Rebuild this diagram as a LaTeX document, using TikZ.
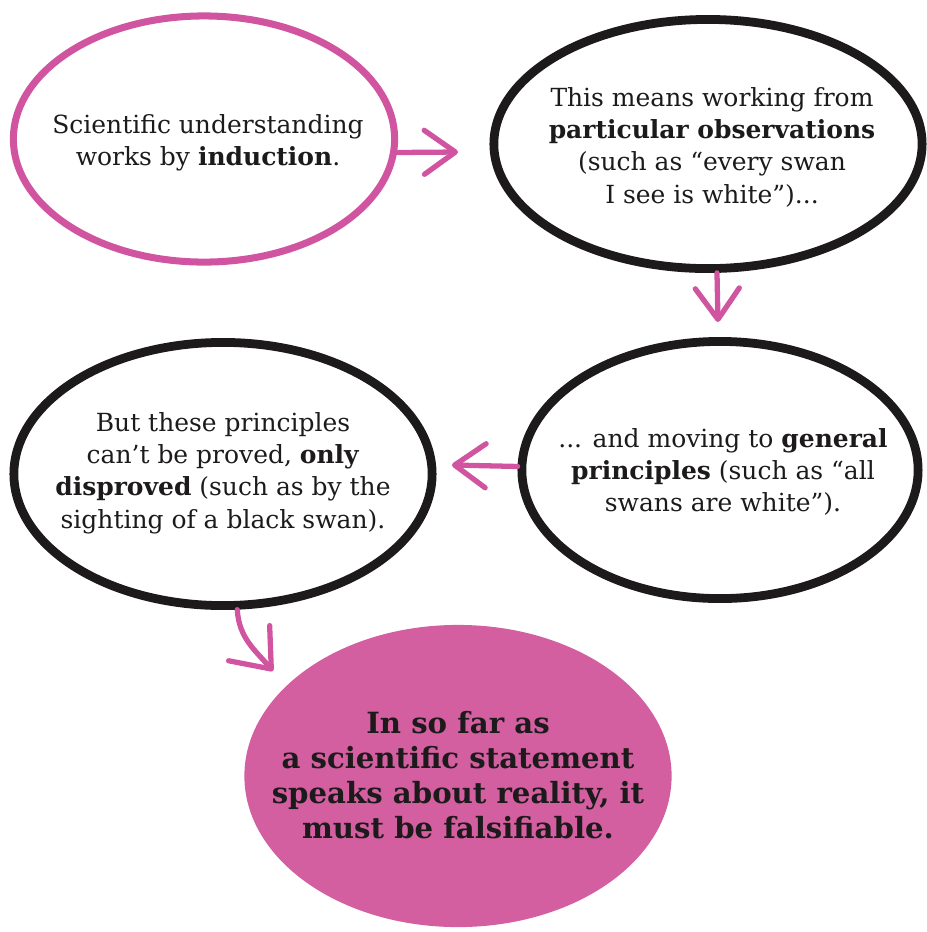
\documentclass[tikz,border=0pt]{standalone}
\usepackage{fontspec}
\setmainfont{DejaVu Serif}
\usetikzlibrary{shapes.geometric,arrows.meta}
\definecolor{swanpink}{RGB}{208,84,160}
\definecolor{swanfill}{RGB}{211,94,160}
\definecolor{inkblack}{RGB}{28,26,27}
\tikzset{
  bubble/.style={ellipse, draw=inkblack, line width=2.5pt, inner sep=0pt},
  says/.style={align=center, text=inkblack, font=\fontsize{7.1}{9.2}\selectfont},
  pinkarrow/.style={swanpink, line width=1.5pt, line cap=round,
    -{Straight Barb[length=3.1mm, width=4.4mm, round]}}
}
\begin{document}
\begin{tikzpicture}[x=0.01cm, y=-0.01cm]
    \useasboundingbox (0,0) rectangle (927,932);

    % Induction
    \node[bubble, draw=swanpink, line width=2pt, minimum width=3.81cm, minimum height=2.46cm] (induct) at (204,139) {};
    \node[says] (induct text) at (208,143) {Scientific understanding\\works by \textbf{induction}.};

    % Particular observations
    \node[bubble, minimum width=4.28cm, minimum height=2.49cm] (observe) at (708,144) {};
    \node[says] (observe text) at (712,147) {This means working from\\\textbf{particular observations}\\(such as “every swan\\I see is white”)...};

    % General principles
    \node[bubble, minimum width=3.96cm, minimum height=2.57cm] (general) at (720,470) {};
    \node[says] (general text) at (723,472) {... and moving to \textbf{general}\\\textbf{principles} (such as “all\\swans are white”).};

    % Only disproved
    \node[bubble, minimum width=4.18cm, minimum height=2.63cm] (disprove) at (223,474) {};
    \node[says] (disprove text) at (223,473) {But these principles\\can’t be proved, \textbf{only}\\\textbf{disproved} (such as by the\\sighting of a black swan).};

    % Falsifiable
    \node[ellipse, fill=swanfill, inner sep=0pt, minimum width=4.27cm, minimum height=3.02cm] (falsify) at (458,776) {};
    \node[align=center, text=inkblack, font=\bfseries\fontsize{8.3}{9.9}\selectfont] (falsify text) at (458,775)
        {In so far as\\a scientific statement\\speaks about reality, it\\must be falsifiable.};

    % Arrows
    \coordinate (tip1) at (458,152);
    \coordinate (tip2) at (718,322);
    \coordinate (tip3) at (452,465);
    \coordinate (tip4) at (273,671);
    \draw[pinkarrow] (induct.-4) -- (tip1);
    \draw[pinkarrow] (observe.-86) -- (tip2);
    \draw[pinkarrow] (general.179) -- (tip3);
    \draw[pinkarrow, -{Straight Barb[length=3.4mm, width=5.4mm, round]}]
        (disprove.-84) .. controls (239,638) and (255,650) .. (tip4);
\end{tikzpicture}
\end{document}
